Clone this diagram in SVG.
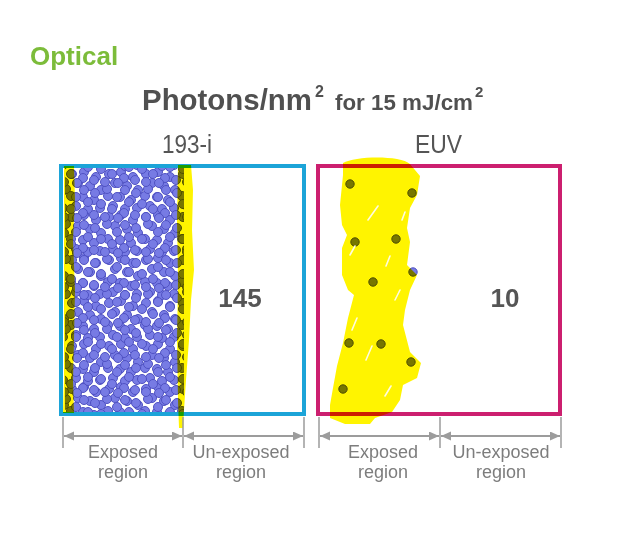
<svg xmlns="http://www.w3.org/2000/svg" width="640" height="533" viewBox="0 0 640 533">
<style>
.dot{fill:#777be4;stroke:#4e50c2;stroke-width:1}
.hl{fill:#fff400;mix-blend-mode:multiply}
.streak{stroke:#fffbe0;stroke-width:1.6;stroke-linecap:round;fill:none}
.tt{font-family:"Liberation Sans",Arial,sans-serif;font-weight:bold;fill:#505050}
.hd{font-family:"Liberation Sans",Arial,sans-serif;fill:#555;font-size:25px}
.num{font-family:"Liberation Sans",Arial,sans-serif;font-weight:bold;fill:#555;font-size:26px;text-anchor:middle}
.lab{font-family:"Liberation Sans",Arial,sans-serif;fill:#7d7d7d;font-size:18px;text-anchor:middle}
.dim{stroke:#9c9c9c;stroke-width:1.5;fill:none}
.arr{stroke:#9c9c9c;stroke-width:2;fill:none;marker-start:url(#ah);marker-end:url(#ah)}
</style>
<defs>
<marker id="ah" markerUnits="userSpaceOnUse" markerWidth="11" markerHeight="10" refX="10" refY="4.5" orient="auto-start-reverse">
<path d="M0,0 L10,4.5 L0,9 Z" fill="#9c9c9c"/>
</marker>
<pattern id="p1" patternUnits="userSpaceOnUse" x="66" y="168" width="37" height="43">
<g class="dot">
<circle cx="6" cy="6" r="4.5"/><circle cx="18" cy="4" r="4.5"/><circle cx="18" cy="47" r="4.5"/>
<circle cx="30" cy="9" r="4.5"/><circle cx="12" cy="15" r="4.5"/><circle cx="24" cy="18" r="4.5"/>
<circle cx="35" cy="22" r="4.5"/><circle cx="-2" cy="22" r="4.5"/><circle cx="5" cy="28" r="4.5"/>
<circle cx="42" cy="28" r="4.5"/>
<circle cx="17" cy="29" r="4.5"/><circle cx="28" cy="32" r="4.5"/><circle cx="10" cy="38" r="4.5"/>
<circle cx="22" cy="41" r="4.5"/><circle cx="22" cy="-2" r="4.5"/><circle cx="34" cy="40" r="4.5"/>
<circle cx="-3" cy="40" r="4.5"/><circle cx="34" cy="-3" r="4.5"/><circle cx="-3" cy="-3" r="4.5"/>
</g>
</pattern>
<pattern id="p2" patternUnits="userSpaceOnUse" x="80" y="185" width="41" height="35">
<g class="dot">
<circle cx="4" cy="5" r="4.5"/><circle cx="45" cy="5" r="4.5"/><circle cx="15" cy="8" r="4.5"/>
<circle cx="27" cy="4" r="4.5"/><circle cx="27" cy="39" r="4.5"/><circle cx="37" cy="12" r="4.5"/>
<circle cx="-4" cy="12" r="4.5"/><circle cx="8" cy="17" r="4.5"/><circle cx="21" cy="19" r="4.5"/>
<circle cx="32" cy="24" r="4.5"/><circle cx="3" cy="28" r="4.5"/><circle cx="44" cy="28" r="4.5"/>
<circle cx="14" cy="30" r="4.5"/><circle cx="25" cy="32" r="4.5"/><circle cx="25" cy="-3" r="4.5"/>
<circle cx="38" cy="33" r="4.5"/><circle cx="-3" cy="33" r="4.5"/><circle cx="38" cy="-2" r="4.5"/>
<circle cx="-3" cy="-2" r="4.5"/>
</g>
</pattern>
</defs>
<rect x="0" y="0" width="640" height="533" fill="#ffffff"/>

<g id="headings">
<text class="tt" x="30" y="65" font-size="26" style="fill:#7cbc3a">Optical</text>
<text class="tt" x="142" y="110" font-size="30" textLength="170" lengthAdjust="spacingAndGlyphs">Photons/nm</text>
<text class="tt" x="315" y="97" font-size="16">2</text>
<text class="tt" x="335" y="110" font-size="22" textLength="138" lengthAdjust="spacingAndGlyphs">for 15 mJ/cm</text>
<text class="tt" x="475" y="97" font-size="15">2</text>
<text class="hd" x="162" y="153" textLength="50" lengthAdjust="spacingAndGlyphs">193-i</text>
<text class="hd" x="415" y="153" textLength="47" lengthAdjust="spacingAndGlyphs">EUV</text>
</g>

<g id="panel-193i">
<rect x="65" y="167" width="119" height="246" fill="url(#p1)"/>
<rect x="65" y="167" width="119" height="246" fill="url(#p2)"/>
<rect x="61" y="166" width="243" height="248" fill="none" stroke="#1ca4d8" stroke-width="4"/>
<text class="num" x="240" y="307">145</text>
</g>

<g id="panel-euv">
<g class="dot">
<circle cx="350" cy="184" r="4.2"/><circle cx="412" cy="193" r="4.2"/>
<circle cx="355" cy="242" r="4.2"/><circle cx="396" cy="239" r="4.2"/>
<circle cx="413" cy="272" r="4.2"/><circle cx="373" cy="282" r="4.2"/>
<circle cx="349" cy="343" r="4.2"/><circle cx="381" cy="344" r="4.2"/>
<circle cx="411" cy="362" r="4.2"/><circle cx="343" cy="389" r="4.2"/>
</g>
<rect x="318" y="166" width="242" height="248" fill="none" stroke="#cc1f6f" stroke-width="4"/>
<text class="num" x="505" y="307">10</text>
</g>

<g id="highlights">
<path class="hl" d="M64,166 L74,166 L75,200 L73,240 L75,290 L74,340 L73,380 L74,413 L63,413 L64,380 Z"/>
<path class="hl" d="M178,165 L191,165 L193,190 L192,230 L194,270 L191,300 L189,340 L186,380 L184,410 L183,428 L179,428 L178,400 L177,340 L178,280 L177,220 Z"/>
<path class="hl" d="M343,163 C355,156 400,155 410,164 L420,176 L417,195 L410,208 L407,228 L410,242 L407,265 L417,275 L410,290 L405,310 L403,325 L410,352 L421,363 L417,378 L403,385 L400,400 L392,412 L375,418 L370,424 L345,424 L330,418 L330,405 L333,388 L337,366 L343,343 L348,318 L354,295 L348,290 L342,275 L342,248 L347,235 L342,225 L340,205 L343,175 Z"/>
<path class="streak" d="M368,220 L378,206 M350,255 L355,246 M386,266 L390,256 M395,300 L400,290 M352,330 L357,318 M366,360 L372,346 M385,396 L391,386 M402,220 L405,212"/>
</g>

<g id="connectors">
<path class="dim" d="M63,417 V448 M183,417 V448 M304,417 V448 M319,417 V448 M440,417 V448 M561,417 V448"/>
<line class="arr" x1="64" y1="436" x2="182" y2="436"/>
<line class="arr" x1="184" y1="436" x2="303" y2="436"/>
<line class="arr" x1="320" y1="436" x2="439" y2="436"/>
<line class="arr" x1="441" y1="436" x2="560" y2="436"/>
</g>

<g id="labels">
<text class="lab" x="123" y="458">Exposed</text><text class="lab" x="123" y="478">region</text>
<text class="lab" x="241" y="458">Un-exposed</text><text class="lab" x="241" y="478">region</text>
<text class="lab" x="383" y="458">Exposed</text><text class="lab" x="383" y="478">region</text>
<text class="lab" x="501" y="458">Un-exposed</text><text class="lab" x="501" y="478">region</text>
</g>
</svg>
